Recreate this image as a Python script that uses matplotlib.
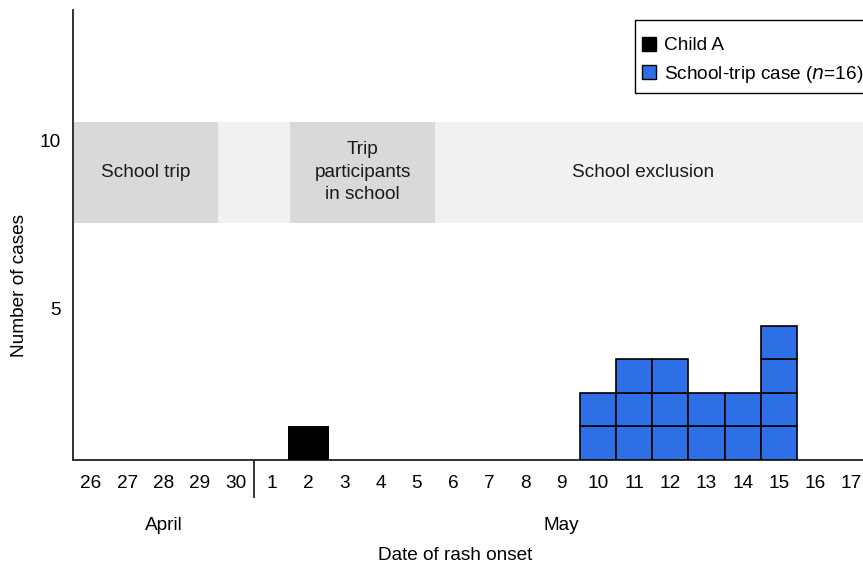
import matplotlib
matplotlib.use("Agg")
import matplotlib.pyplot as plt
import matplotlib.transforms as mtrans
from matplotlib.patches import Patch, Rectangle

plt.rcParams['font.family'] = ['Liberation Sans', 'DejaVu Sans']

# ---- data ----
day_labels = ['26', '27', '28', '29', '30', '1', '2', '3', '4', '5', '6', '7', '8',
              '9', '10', '11', '12', '13', '14', '15', '16', '17']
child_a_day = '2'
child_a_count = 1
trip_days = ['10', '11', '12', '13', '14', '15']
trip_counts = [2, 3, 3, 2, 2, 4]
month_names = ['April', 'May']
month_center_days = [('26', '30'), ('1', '17')]
periods = ['School trip', '', 'Trip\nparticipants\nin school', 'School exclusion']
period_start = ['26', '30', '2', '6']
period_end = ['29', '1', '5', '17']
period_dark = [True, False, True, False]

# ---- figure ----
W, H = 863, 568
fig = plt.figure(figsize=(W / 100, H / 100), dpi=100)
ax = fig.add_axes([73 / W, 1 - 460 / H, 1 - 73 / W, (460 - 10) / H])

xpos = {d: i for i, d in enumerate(day_labels)}
ax.set_xlim(-0.5, 21.32)
ax.set_ylim(0, 13.4)

FS = 13.7
dark_gray = '#d9d9d9'
light_gray = '#f1f1f1'
band_lo, band_hi = 7.05, 10.06

for lab, s, e, dk in zip(periods, period_start, period_end, period_dark):
    x0 = xpos[s] - 0.5
    x1 = xpos[e] + 0.5
    if e == day_labels[-1]:
        x1r = 21.32
    else:
        x1r = x1
    ax.add_patch(Rectangle((x0, band_lo), x1r - x0, band_hi - band_lo,
                           facecolor=dark_gray if dk else light_gray,
                           edgecolor='none', zorder=0))
    if lab:
        ax.text((x0 + x1) / 2 - (0.25 if e == day_labels[-1] else 0),
                (band_lo + band_hi) / 2 + 0.02, lab, ha='center', va='center',
                fontsize=FS, linespacing=1.45, color='#1a1a1a', zorder=1)

# Child A bar
ax.bar(xpos[child_a_day], child_a_count, width=1.13, bottom=0,
       color='black', edgecolor='black', linewidth=0, zorder=3)

# school-trip cases as unit squares
blue = '#2f6fe6'
for d, c in zip(trip_days, trip_counts):
    for k in range(c):
        ax.bar(xpos[d], 1, width=1.0, bottom=k, color=blue,
               edgecolor='black', linewidth=1.2, zorder=3)

# axes styling
for sp in ['top', 'right']:
    ax.spines[sp].set_visible(False)
for sp in ['left', 'bottom']:
    ax.spines[sp].set_color('#333333')
    ax.spines[sp].set_linewidth(1.4)

ax.set_xticks(range(len(day_labels)))
ax.set_xticklabels(day_labels, fontsize=FS)
ax.tick_params(axis='x', length=0, pad=11)
ax.set_yticks([4.5, 9.5])
ax.set_yticklabels(['5', '10'], fontsize=FS)
ax.tick_params(axis='y', length=0, pad=9)

trans = mtrans.blended_transform_factory(ax.transData, ax.transAxes)
# month separator
sep_x = (xpos['30'] + xpos['1']) / 2
ax.plot([sep_x, sep_x], [0, -37 / 450], transform=trans, color='#333333',
        linewidth=1.4, clip_on=False)
for m, (a, b) in zip(month_names, month_center_days):
    ax.text((xpos[a] + xpos[b]) / 2, -66 / 450, m, transform=trans,
            ha='center', va='center', fontsize=FS)

ax.text(0.5 * (-0.5 + 21.32) - 0.35, -96 / 450, 'Date of rash onset', transform=trans,
        ha='center', va='center', fontsize=FS)
fig.text(20 / W, 1 - 285 / H, 'Number of cases', rotation=90, ha='center',
         va='center', fontsize=FS)

# legend frame (extends past the right edge, as in the reference)
fig.patches.append(Rectangle((635 / W, 1 - 93 / H), 240 / W, 73 / H,
                             transform=fig.transFigure, facecolor='white',
                             edgecolor='black', linewidth=1.0, zorder=5))
handles = [Patch(facecolor='black', edgecolor='black', linewidth=1),
           Patch(facecolor=blue, edgecolor='black', linewidth=1)]
leg = fig.legend(handles, ['Child A', 'School-trip case ($\\it{n}$=16)'],
                 loc='upper left', bbox_to_anchor=(638 / W, 1 - 33 / H),
                 fontsize=FS, frameon=False, handlelength=0.75,
                 handleheight=0.75, handletextpad=0.4, borderpad=0.2,
                 labelspacing=0.5, borderaxespad=0)
leg.set_zorder(6)

fig.savefig('out.png', dpi=100)
